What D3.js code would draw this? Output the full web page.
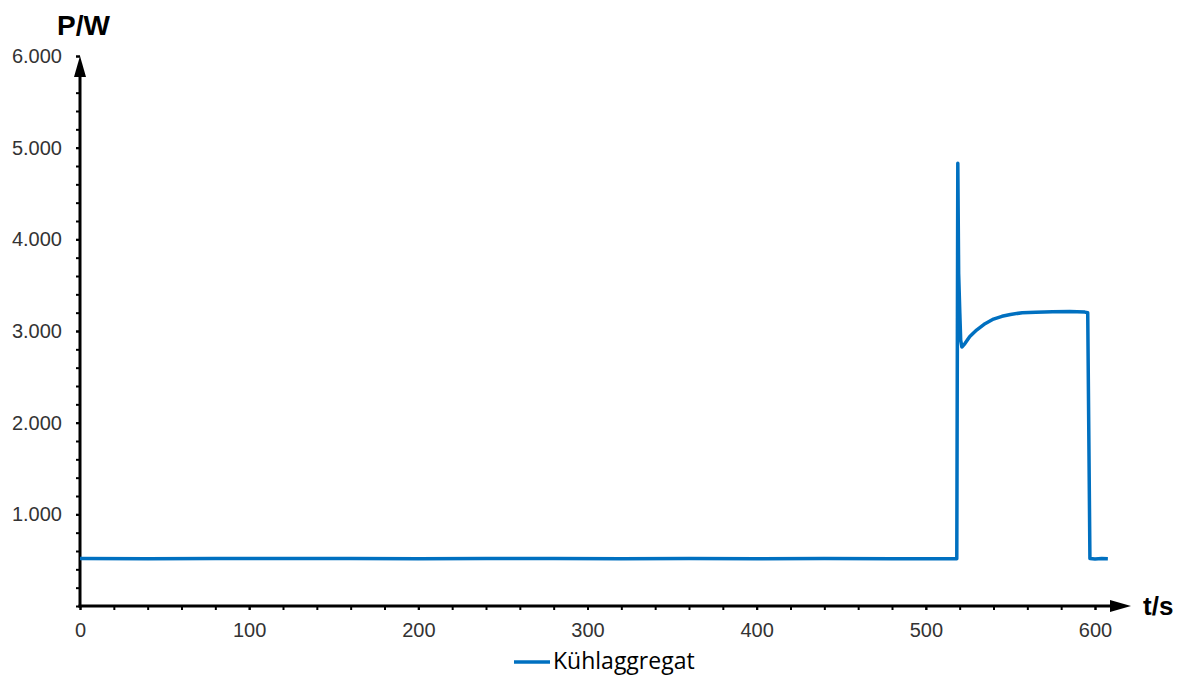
<!DOCTYPE html>
<html>
<head>
<meta charset="utf-8">
<script src="https://cdn.jsdelivr.net/npm/d3@7"></script>
<style>
  body { margin: 0; background: #fff; }
  .tick text { font-family: "Liberation Sans", Arial, sans-serif; font-size: 20px; fill: #333; }
</style>
</head>
<body>
<script>

// measured power of the cooling unit
var time  = [0, 40, 80, 120, 160, 200, 240, 280, 320, 360, 400, 440, 480, 518.3,
             518.9, 519.4, 520.1, 520.6, 521.3, 523, 526, 530, 535, 540, 545, 550,
             557, 565, 575, 585, 594, 595.7, 597, 600, 604, 607.6];
var power = [518, 516, 519, 517, 518, 516, 518, 517, 516, 517, 516, 517, 516, 516,
             4830, 3630, 3190, 2900, 2825, 2860, 2940, 3010, 3080, 3130, 3160, 3180,
             3200, 3205, 3210, 3212, 3206, 3200, 518, 514, 518, 516];

var yMajor = [1000, 2000, 3000, 4000, 5000, 6000];
var xMajor = [0, 100, 200, 300, 400, 500, 600];

var width = 1183;
var height = 677;

var svg = d3.select("body")
      .append("svg")
      .attr("width", width)
      .attr("height", height);

var x = d3.scaleLinear().domain([0, 600]).range([80, 1095]);
var y = d3.scaleLinear().domain([0, 6000]).range([606, 56]);

var de = d3.formatLocale({decimal: ",", thousands: ".", grouping: [3], currency: ["", "€"]});
var fmt = de.format(",.0f");

// minor ticks, every 200 W / 20 s
var yMinor = d3.range(0, 6001, 200);
var xMinor = d3.range(0, 601, 20);

svg.append("g")
    .attr("transform", "translate(80,0)")
    .call(d3.axisLeft(y).tickValues(yMinor).tickSize(4).tickFormat(""))
    .call(function(g) { g.select(".domain").remove(); })
    .selectAll("line").attr("stroke", "#000").attr("stroke-width", 2);

svg.append("g")
    .attr("transform", "translate(0,606)")
    .call(d3.axisBottom(x).tickValues(xMinor).tickSize(4).tickFormat(""))
    .call(function(g) { g.select(".domain").remove(); })
    .selectAll("line").attr("stroke", "#000").attr("stroke-width", 2);

// major labels
svg.append("g")
    .attr("transform", "translate(80,0)")
    .call(d3.axisLeft(y).tickValues(yMajor).tickSize(4).tickPadding(14).tickFormat(fmt))
    .call(function(g) { g.select(".domain").remove(); })
    .selectAll("line").attr("stroke", "#000").attr("stroke-width", 2);

svg.append("g")
    .attr("transform", "translate(0,606)")
    .call(d3.axisBottom(x).tickValues(xMajor).tickSize(4).tickPadding(13).tickFormat(fmt))
    .call(function(g) { g.select(".domain").remove(); })
    .selectAll("line").attr("stroke", "#000").attr("stroke-width", 2);

// axis lines with arrows
svg.append("line")
    .attr("x1", 80).attr("y1", 607.5).attr("x2", 80).attr("y2", 70)
    .attr("stroke", "#000").attr("stroke-width", 3);
svg.append("path")
    .attr("d", "M80,56L86,77L74,77Z")
    .attr("fill", "#000");

svg.append("line")
    .attr("x1", 78.5).attr("y1", 606).attr("x2", 1115).attr("y2", 606)
    .attr("stroke", "#000").attr("stroke-width", 3);
svg.append("path")
    .attr("d", "M1131,606L1110,600L1110,612Z")
    .attr("fill", "#000");

// axis titles
svg.append("text")
    .attr("x", 57).attr("y", 35)
    .attr("font-family", "Liberation Sans, Arial, sans-serif")
    .attr("font-size", 28).attr("font-weight", "bold")
    .text("P/W");

svg.append("text")
    .attr("x", 1143).attr("y", 615)
    .attr("font-family", "Liberation Sans, Arial, sans-serif")
    .attr("font-size", 26).attr("font-weight", "bold")
    .text("t/s");

// data line
var line = d3.line()
    .x(function(d, i) { return x(time[i]); })
    .y(function(d) { return y(d); });

svg.append("path")
    .datum(power)
    .attr("d", line)
    .attr("fill", "none")
    .attr("stroke", "#0070C0")
    .attr("stroke-width", 3.5)
    .attr("stroke-linejoin", "round");

// legend
svg.append("line")
    .attr("x1", 514).attr("y1", 662).attr("x2", 550).attr("y2", 662)
    .attr("stroke", "#0070C0").attr("stroke-width", 3.5);
svg.append("text")
    .attr("x", 553).attr("y", 669)
    .attr("font-family", "Open Sans, sans-serif")
    .attr("font-size", 23)
    .attr("fill", "#000")
    .text("Kühlaggregat");

</script>
</body>
</html>
